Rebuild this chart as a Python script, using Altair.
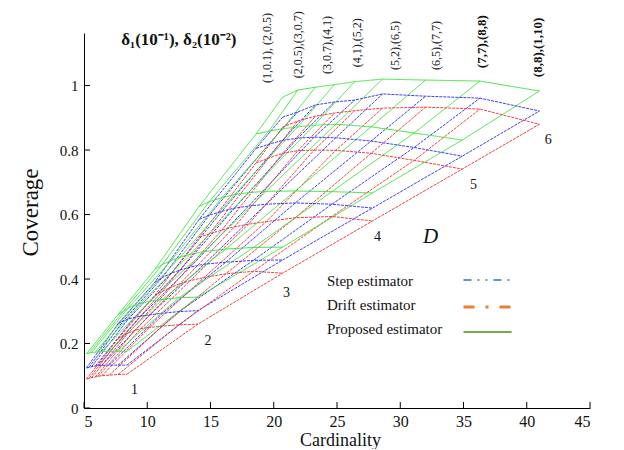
import altair as alt
import pandas as pd

FAMILIES = ["Step estimator", "Drift estimator", "Proposed estimator"]
D_LEVELS = [1, 2, 3, 4, 5, 6]

# Cardinality of each of the 9 (delta1, delta2) settings, one row per D level
X_GRID = [
    [5.2, 5.4, 5.6, 5.9, 6.1, 6.4, 7.0, 7.7, 8.4],
    [7.7, 8.1, 8.5, 9.0, 9.5, 10.2, 11.2, 12.5, 14.0],
    [10.6, 11.2, 11.9, 12.6, 13.4, 14.5, 16.2, 18.4, 20.7],
    [14.1, 14.9, 15.9, 16.9, 18.0, 19.4, 21.7, 24.6, 27.8],
    [18.6, 19.6, 20.7, 21.9, 23.2, 24.9, 27.7, 31.1, 34.9],
    [20.7, 21.9, 23.3, 24.8, 26.4, 28.6, 32.0, 36.3, 41.0],
]

STEP_Y = [
    [0.124, 0.126, 0.128, 0.130, 0.131, 0.132, 0.133, 0.133, 0.133],
    [0.262, 0.270, 0.276, 0.281, 0.285, 0.289, 0.294, 0.299, 0.302],
    [0.390, 0.405, 0.418, 0.428, 0.437, 0.446, 0.452, 0.458, 0.459],
    [0.585, 0.598, 0.610, 0.620, 0.626, 0.632, 0.636, 0.632, 0.620],
    [0.805, 0.818, 0.830, 0.837, 0.840, 0.838, 0.828, 0.808, 0.781],
    [0.902, 0.918, 0.940, 0.949, 0.955, 0.974, 0.967, 0.961, 0.921],
]
DRIFT_Y = [
    [0.090, 0.092, 0.094, 0.096, 0.098, 0.100, 0.102, 0.104, 0.105],
    [0.215, 0.225, 0.233, 0.240, 0.246, 0.250, 0.254, 0.258, 0.260],
    [0.350, 0.362, 0.375, 0.386, 0.395, 0.405, 0.416, 0.424, 0.418],
    [0.530, 0.540, 0.552, 0.562, 0.570, 0.578, 0.590, 0.594, 0.580],
    [0.760, 0.775, 0.790, 0.798, 0.800, 0.799, 0.790, 0.768, 0.741],
    [0.871, 0.890, 0.905, 0.915, 0.922, 0.930, 0.933, 0.927, 0.880],
]
PROPOSED_Y = [
    [0.168, 0.170, 0.172, 0.173, 0.174, 0.175, 0.176, 0.176, 0.176],
    [0.290, 0.300, 0.310, 0.318, 0.325, 0.331, 0.337, 0.342, 0.344],
    [0.430, 0.445, 0.458, 0.468, 0.477, 0.485, 0.493, 0.498, 0.499],
    [0.625, 0.640, 0.652, 0.662, 0.668, 0.672, 0.673, 0.671, 0.667],
    [0.850, 0.858, 0.866, 0.872, 0.877, 0.880, 0.872, 0.853, 0.831],
    [0.964, 0.986, 0.995, 1.003, 1.012, 1.020, 1.017, 1.014, 0.983],
]

PARAM_LABELS = ["(1,0.1), (2,0.5)", "(2,0.5),(3,0.7)", "(3,0.7),(4,1)", "(4,1),(5,2)",
                "(5,2),(6,5)", "(6,5),(7,7)", "(7,7),(8,8)", "(8,8),(1,10)"]
X_TICKS = [5, 10, 15, 20, 25, 30, 35, 40, 45]
Y_TICKS = [0, 0.2, 0.4, 0.6, 0.8, 1.0]

# annotation anchor positions (data coordinates)
PARAM_LABEL_X = [19.5, 21.9, 24.2, 26.6, 29.6, 32.8, 36.5, 40.9]
PARAM_LABEL_Y = [1.008, 1.023, 1.036, 1.057, 1.048, 1.048, 1.054, 1.026]
D_LABEL_X = [9.0, 14.8, 21.0, 28.2, 35.8, 41.7]
D_LABEL_Y = [0.056, 0.208, 0.357, 0.530, 0.691, 0.831]
LEGEND_TEXT_X = 24.2
LEGEND_TEXT_Y = [0.394, 0.319, 0.245]
LEGEND_LINE_X = [35.0, 38.8]
LEGEND_LINE_Y = [0.397, 0.313, 0.236]

FONT = "Liberation Serif"

rows = []
for fam, Y in zip(FAMILIES, [STEP_Y, DRIFT_Y, PROPOSED_Y]):
    for i, d in enumerate(D_LEVELS):
        for j in range(9):
            rows.append(dict(family=fam, D=d, p=j + 1, x=X_GRID[i][j], y=Y[i][j],
                             curve=f"{fam}-D{d}", diag=f"{fam}-p{j+1}"))
df = pd.DataFrame(rows)

XAXIS = alt.Axis(values=X_TICKS, ticks=False, tickSize=0, grid=False, domainColor="black",
                 labelFont=FONT, labelFontSize=16, labelColor="#111", labelPadding=5,
                 title="Cardinality", titleFont=FONT, titleFontSize=18, titleFontWeight="normal",
                 titleColor="#111", titleX=256, titleY=32, titleBaseline="middle", titleAlign="center")
YAXIS = alt.Axis(values=Y_TICKS, format="~g", ticks=False, tickSize=0, grid=False, domainColor="black",
                 labelFont=FONT, labelFontSize=15, labelColor="#111", labelPadding=6,
                 title="Coverage", titleFont=FONT, titleFontSize=23, titleFontWeight="normal",
                 titleColor="#111", titleX=-54, titleY=179, titleAngle=270,
                 titleBaseline="middle", titleAlign="center")

X_ENC = alt.X("x:Q", scale=alt.Scale(domain=[5, 45], nice=False, zero=False), axis=XAXIS)
Y_ENC = alt.Y("y:Q", scale=alt.Scale(domain=[0, 1.163], nice=False), axis=YAXIS)

COLOR = alt.Color("family:N", scale=alt.Scale(domain=FAMILIES, range=["#2a2af2", "#f22a2a", "#2fe02f"]),
                  legend=None)
DASH = alt.StrokeDash("family:N", scale=alt.Scale(domain=FAMILIES, range=[[3, 1], [3, 1], [1, 0]]),
                      legend=None)

base = alt.Chart(df)
curves = base.mark_line(strokeWidth=1, opacity=0.9).encode(
    x=X_ENC, y=Y_ENC, color=COLOR, strokeDash=DASH, detail="curve:N", order="p:Q")
diags = base.mark_line(strokeWidth=1, opacity=0.9).encode(
    x=X_ENC, y=Y_ENC, color=COLOR, strokeDash=DASH, detail="diag:N", order="D:Q")

xt = alt.Chart(pd.DataFrame({"x": X_TICKS})).mark_rule(color="black", strokeWidth=1).encode(
    x=X_ENC, y=alt.value(375), y2=alt.value(369))
yt = alt.Chart(pd.DataFrame({"y": Y_TICKS})).mark_rule(color="black", strokeWidth=1).encode(
    y=Y_ENC, x=alt.value(0), x2=alt.value(6))

plab = pd.DataFrame({"x": PARAM_LABEL_X, "y": PARAM_LABEL_Y, "t": PARAM_LABELS})
ptext_n = alt.Chart(plab.iloc[:6]).mark_text(angle=270, align="left", baseline="middle",
                                             font=FONT, fontSize=12, color="#222").encode(
    x=X_ENC, y=Y_ENC, text="t:N")
ptext_b = alt.Chart(plab.iloc[6:]).mark_text(angle=270, align="left", baseline="middle",
                                             font=FONT, fontSize=13, fontWeight="bold", color="#111").encode(
    x=X_ENC, y=Y_ENC, text="t:N")

title_txt = alt.Chart(pd.DataFrame({"x": [12.5], "y": [1.141], "t": ["δ₁(10⁻¹), δ₂(10⁻²)"]})).mark_text(
    font=FONT, fontSize=17, fontWeight="bold", color="#111", align="center", baseline="middle").encode(
    x=X_ENC, y=Y_ENC, text="t:N")

dlab = pd.DataFrame({"x": D_LABEL_X, "y": D_LABEL_Y, "t": [str(d) for d in D_LEVELS]})
dtext = alt.Chart(dlab).mark_text(font=FONT, fontSize=14, color="#111", align="center",
                                  baseline="middle").encode(x=X_ENC, y=Y_ENC, text="t:N")

d_big = alt.Chart(pd.DataFrame({"x": [32.4], "y": [0.53], "t": ["D"]})).mark_text(
    font=FONT, fontSize=21, fontStyle="italic", color="#111", align="center", baseline="middle").encode(
    x=X_ENC, y=Y_ENC, text="t:N")

ltext = alt.Chart(pd.DataFrame({"x": [LEGEND_TEXT_X] * 3, "y": LEGEND_TEXT_Y, "t": FAMILIES})).mark_text(
    font=FONT, fontSize=15, color="#111", align="left", baseline="middle").encode(
    x=X_ENC, y=Y_ENC, text="t:N")

def legend_line(i, color, dash, width):
    d = pd.DataFrame({"x": [LEGEND_LINE_X[0]], "x2": [LEGEND_LINE_X[1]], "y": [LEGEND_LINE_Y[i]]})
    return alt.Chart(d).mark_rule(color=color, strokeDash=dash, strokeWidth=width).encode(
        x=X_ENC, x2="x2:Q", y=Y_ENC)

l1 = legend_line(0, "#5b9bd5", [8, 6, 2, 6, 2, 6], 2)
l2 = legend_line(1, "#ed7d31", [11, 11, 3, 11], 3)
l3 = legend_line(2, "#70ad47", [1, 0], 2)

chart = alt.layer(diags, curves, xt, yt, ptext_n, ptext_b, title_txt, dtext, d_big, ltext, l1, l2, l3).properties(
    width=506, height=375,
    autosize=alt.AutoSizeParams(type="none"),
    padding={"left": 76, "top": 25, "right": 26, "bottom": 41},
).configure_view(stroke=None)

chart.save("out.html", embed_options={"renderer": "svg", "actions": False})
